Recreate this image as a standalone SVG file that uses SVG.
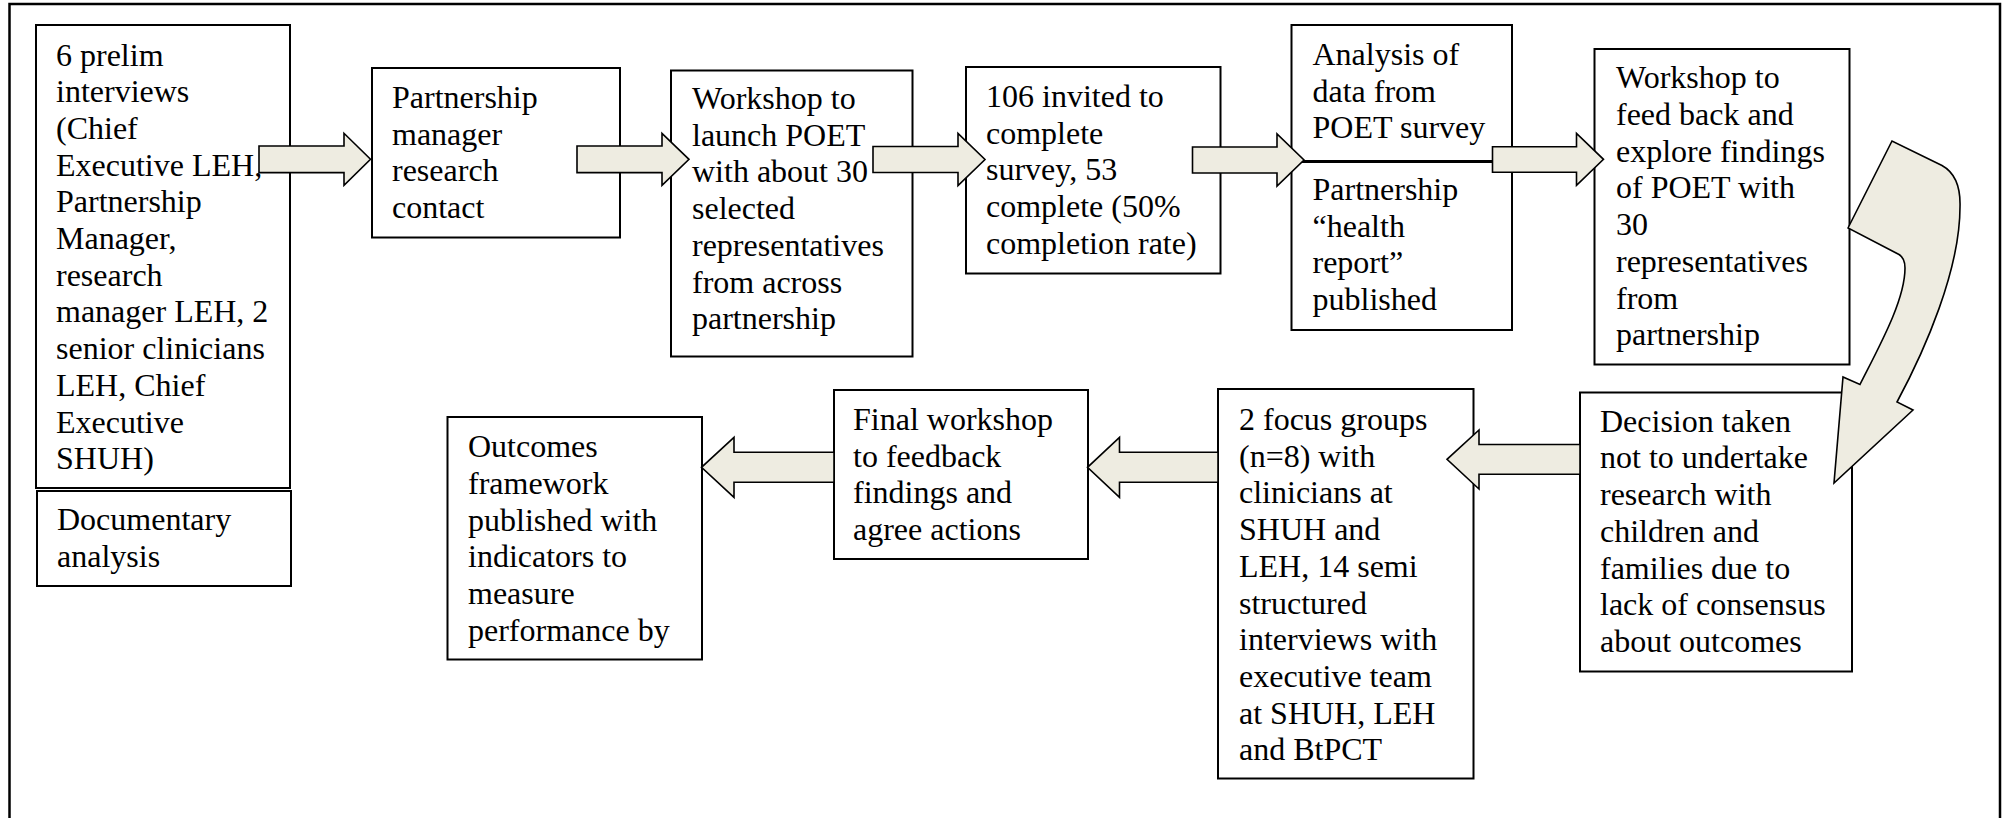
<svg xmlns="http://www.w3.org/2000/svg" width="2005" height="818" viewBox="0 0 2005 818">
  <style>
    .box { fill: #ffffff; stroke: #000000; stroke-width: 2; }
    .lbl { font-size: 32px; fill: #000000; }
    .arrow { fill: #EEECE1; stroke: #000000; stroke-width: 1.6; stroke-linejoin: miter; }
    .frame { fill: none; stroke: #000000; stroke-width: 2.5; }
    .divider { stroke: #000000; stroke-width: 3; }
  </style>

  <!-- outer frame (open at the bottom) -->
  <path class="frame" d="M9.5,818 V4 H2000 V818"/>

  <g font-family="Liberation Serif" font-size="32">
  <g id="node-prelim-interviews">
    <rect class="box" x="36" y="25" width="254" height="463"/>
    <text class="lbl" font-family="Liberation Serif" x="56" y="65.5">
      <tspan x="56" dy="0">6 prelim</tspan>
      <tspan x="56" dy="36.7">interviews</tspan>
      <tspan x="56" dy="36.7">(Chief</tspan>
      <tspan x="56" dy="36.7">Executive LEH,</tspan>
      <tspan x="56" dy="36.7">Partnership</tspan>
      <tspan x="56" dy="36.7">Manager,</tspan>
      <tspan x="56" dy="36.7">research</tspan>
      <tspan x="56" dy="36.7">manager LEH, 2</tspan>
      <tspan x="56" dy="36.7">senior clinicians</tspan>
      <tspan x="56" dy="36.7">LEH, Chief</tspan>
      <tspan x="56" dy="36.7">Executive</tspan>
      <tspan x="56" dy="36.7">SHUH)</tspan>
    </text>
  </g>

  <g id="node-documentary">
    <rect class="box" x="37" y="491" width="254" height="95"/>
    <text class="lbl" font-family="Liberation Serif" x="57" y="530">
      <tspan x="57" dy="0">Documentary</tspan>
      <tspan x="57" dy="36.7">analysis</tspan>
    </text>
  </g>

  <g id="node-partnership-manager">
    <rect class="box" x="372" y="68" width="248" height="169.5"/>
    <text class="lbl" font-family="Liberation Serif" x="392" y="108">
      <tspan x="392" dy="0">Partnership</tspan>
      <tspan x="392" dy="36.7">manager</tspan>
      <tspan x="392" dy="36.7">research</tspan>
      <tspan x="392" dy="36.7">contact</tspan>
    </text>
  </g>

  <g id="node-launch-workshop">
    <rect class="box" x="671" y="70.5" width="241.5" height="286"/>
    <text class="lbl" font-family="Liberation Serif" x="692" y="109">
      <tspan x="692" dy="0">Workshop to</tspan>
      <tspan x="692" dy="36.7">launch POET</tspan>
      <tspan x="692" dy="36.7">with about 30</tspan>
      <tspan x="692" dy="36.7">selected</tspan>
      <tspan x="692" dy="36.7">representatives</tspan>
      <tspan x="692" dy="36.7">from across</tspan>
      <tspan x="692" dy="36.7">partnership</tspan>
    </text>
  </g>

  <g id="node-survey">
    <rect class="box" x="966" y="67" width="254.5" height="206.5"/>
    <text class="lbl" font-family="Liberation Serif" x="986" y="107">
      <tspan x="986" dy="0">106 invited to</tspan>
      <tspan x="986" dy="36.7">complete</tspan>
      <tspan x="986" dy="36.7">survey, 53</tspan>
      <tspan x="986" dy="36.7">complete (50%</tspan>
      <tspan x="986" dy="36.7">completion rate)</tspan>
    </text>
  </g>

  <g id="node-analysis-report">
    <rect class="box" x="1291.5" y="25" width="220.5" height="305"/>
    <line class="divider" x1="1291.5" y1="161.5" x2="1512" y2="161.5"/>
    <text class="lbl" font-family="Liberation Serif" x="1312.5" y="65">
      <tspan x="1312.5" dy="0">Analysis of</tspan>
      <tspan x="1312.5" dy="36.7">data from</tspan>
      <tspan x="1312.5" dy="36.7">POET survey</tspan>
    </text>
    <text class="lbl" font-family="Liberation Serif" x="1312.5" y="200">
      <tspan x="1312.5" dy="0">Partnership</tspan>
      <tspan x="1312.5" dy="36.7">“health</tspan>
      <tspan x="1312.5" dy="36.7">report”</tspan>
      <tspan x="1312.5" dy="36.7">published</tspan>
    </text>
  </g>

  <g id="node-feedback-workshop">
    <rect class="box" x="1594.5" y="49" width="255" height="315.5"/>
    <text class="lbl" font-family="Liberation Serif" x="1616" y="88.3">
      <tspan x="1616" dy="0">Workshop to</tspan>
      <tspan x="1616" dy="36.7">feed back and</tspan>
      <tspan x="1616" dy="36.7">explore findings</tspan>
      <tspan x="1616" dy="36.7">of POET with</tspan>
      <tspan x="1616" dy="36.7">30</tspan>
      <tspan x="1616" dy="36.7">representatives</tspan>
      <tspan x="1616" dy="36.7">from</tspan>
      <tspan x="1616" dy="36.7">partnership</tspan>
    </text>
  </g>

  <g id="node-decision">
    <rect class="box" x="1580" y="392.5" width="272" height="279"/>
    <text class="lbl" font-family="Liberation Serif" x="1600" y="431.7">
      <tspan x="1600" dy="0">Decision taken</tspan>
      <tspan x="1600" dy="36.7">not to undertake</tspan>
      <tspan x="1600" dy="36.7">research with</tspan>
      <tspan x="1600" dy="36.7">children and</tspan>
      <tspan x="1600" dy="36.7">families due to</tspan>
      <tspan x="1600" dy="36.7">lack of consensus</tspan>
      <tspan x="1600" dy="36.7">about outcomes</tspan>
    </text>
  </g>

  <g id="node-focus-groups">
    <rect class="box" x="1218" y="389" width="255.5" height="389.5"/>
    <text class="lbl" font-family="Liberation Serif" x="1239" y="430">
      <tspan x="1239" dy="0">2 focus groups</tspan>
      <tspan x="1239" dy="36.7">(n=8) with</tspan>
      <tspan x="1239" dy="36.7">clinicians at</tspan>
      <tspan x="1239" dy="36.7">SHUH and</tspan>
      <tspan x="1239" dy="36.7">LEH, 14 semi</tspan>
      <tspan x="1239" dy="36.7">structured</tspan>
      <tspan x="1239" dy="36.7">interviews with</tspan>
      <tspan x="1239" dy="36.7">executive team</tspan>
      <tspan x="1239" dy="36.7">at SHUH, LEH</tspan>
      <tspan x="1239" dy="36.7">and BtPCT</tspan>
    </text>
  </g>

  <g id="node-final-workshop">
    <rect class="box" x="834" y="390" width="254" height="169"/>
    <text class="lbl" font-family="Liberation Serif" x="853" y="430">
      <tspan x="853" dy="0">Final workshop</tspan>
      <tspan x="853" dy="36.7">to feedback</tspan>
      <tspan x="853" dy="36.7">findings and</tspan>
      <tspan x="853" dy="36.7">agree actions</tspan>
    </text>
  </g>

  <g id="node-outcomes-framework">
    <rect class="box" x="447.5" y="417" width="254.5" height="242.5"/>
    <text class="lbl" font-family="Liberation Serif" x="468" y="457.3">
      <tspan x="468" dy="0">Outcomes</tspan>
      <tspan x="468" dy="36.7">framework</tspan>
      <tspan x="468" dy="36.7">published with</tspan>
      <tspan x="468" dy="36.7">indicators to</tspan>
      <tspan x="468" dy="36.7">measure</tspan>
      <tspan x="468" dy="36.7">performance by</tspan>
    </text>
  </g>
  </g>

  <g id="connectors">
    <!-- top row, left to right -->
    <path class="arrow" d="M259,146 H344 V133.3 L370.5,159.3 L344,185.3 V172.6 H259 Z"/>
    <path class="arrow" d="M577,146 H662 V133.3 L689,159.3 L662,185.3 V172.6 H577 Z"/>
    <path class="arrow" d="M873,146.5 H958 V133.5 L985,159.5 L958,185.5 V172.5 H873 Z"/>
    <path class="arrow" d="M1192.5,147 H1277 V134 L1304,160 L1277,186 V173 H1192.5 Z"/>
    <path class="arrow" d="M1492.5,146.7 H1576.5 V133.3 L1603.5,159.3 L1576.5,185.3 V172.3 H1492.5 Z"/>
    <!-- curved turn down to the second row -->
    <path class="arrow" d="M1848,228 L1892,141 L1942,165.5 Q1961,176 1960,207 C1960,270 1925,350 1897,402 L1913,410 L1834,483 L1843,377 L1860,384.5 C1880,345 1905,300 1905,268 Q1905,258 1899,254.5 Z"/>
    <!-- bottom row, right to left -->
    <path class="arrow" d="M1580,444.5 H1479 V430 L1447,459.3 L1479,489 V474.3 H1580 Z"/>
    <path class="arrow" d="M1218,452.3 H1119.5 V437.3 L1087.5,467.3 L1119.5,497.3 V482.3 H1218 Z"/>
    <path class="arrow" d="M834,452.3 H734 V437.3 L701.5,467.3 L734,497.3 V482.3 H834 Z"/>
  </g>
</svg>
